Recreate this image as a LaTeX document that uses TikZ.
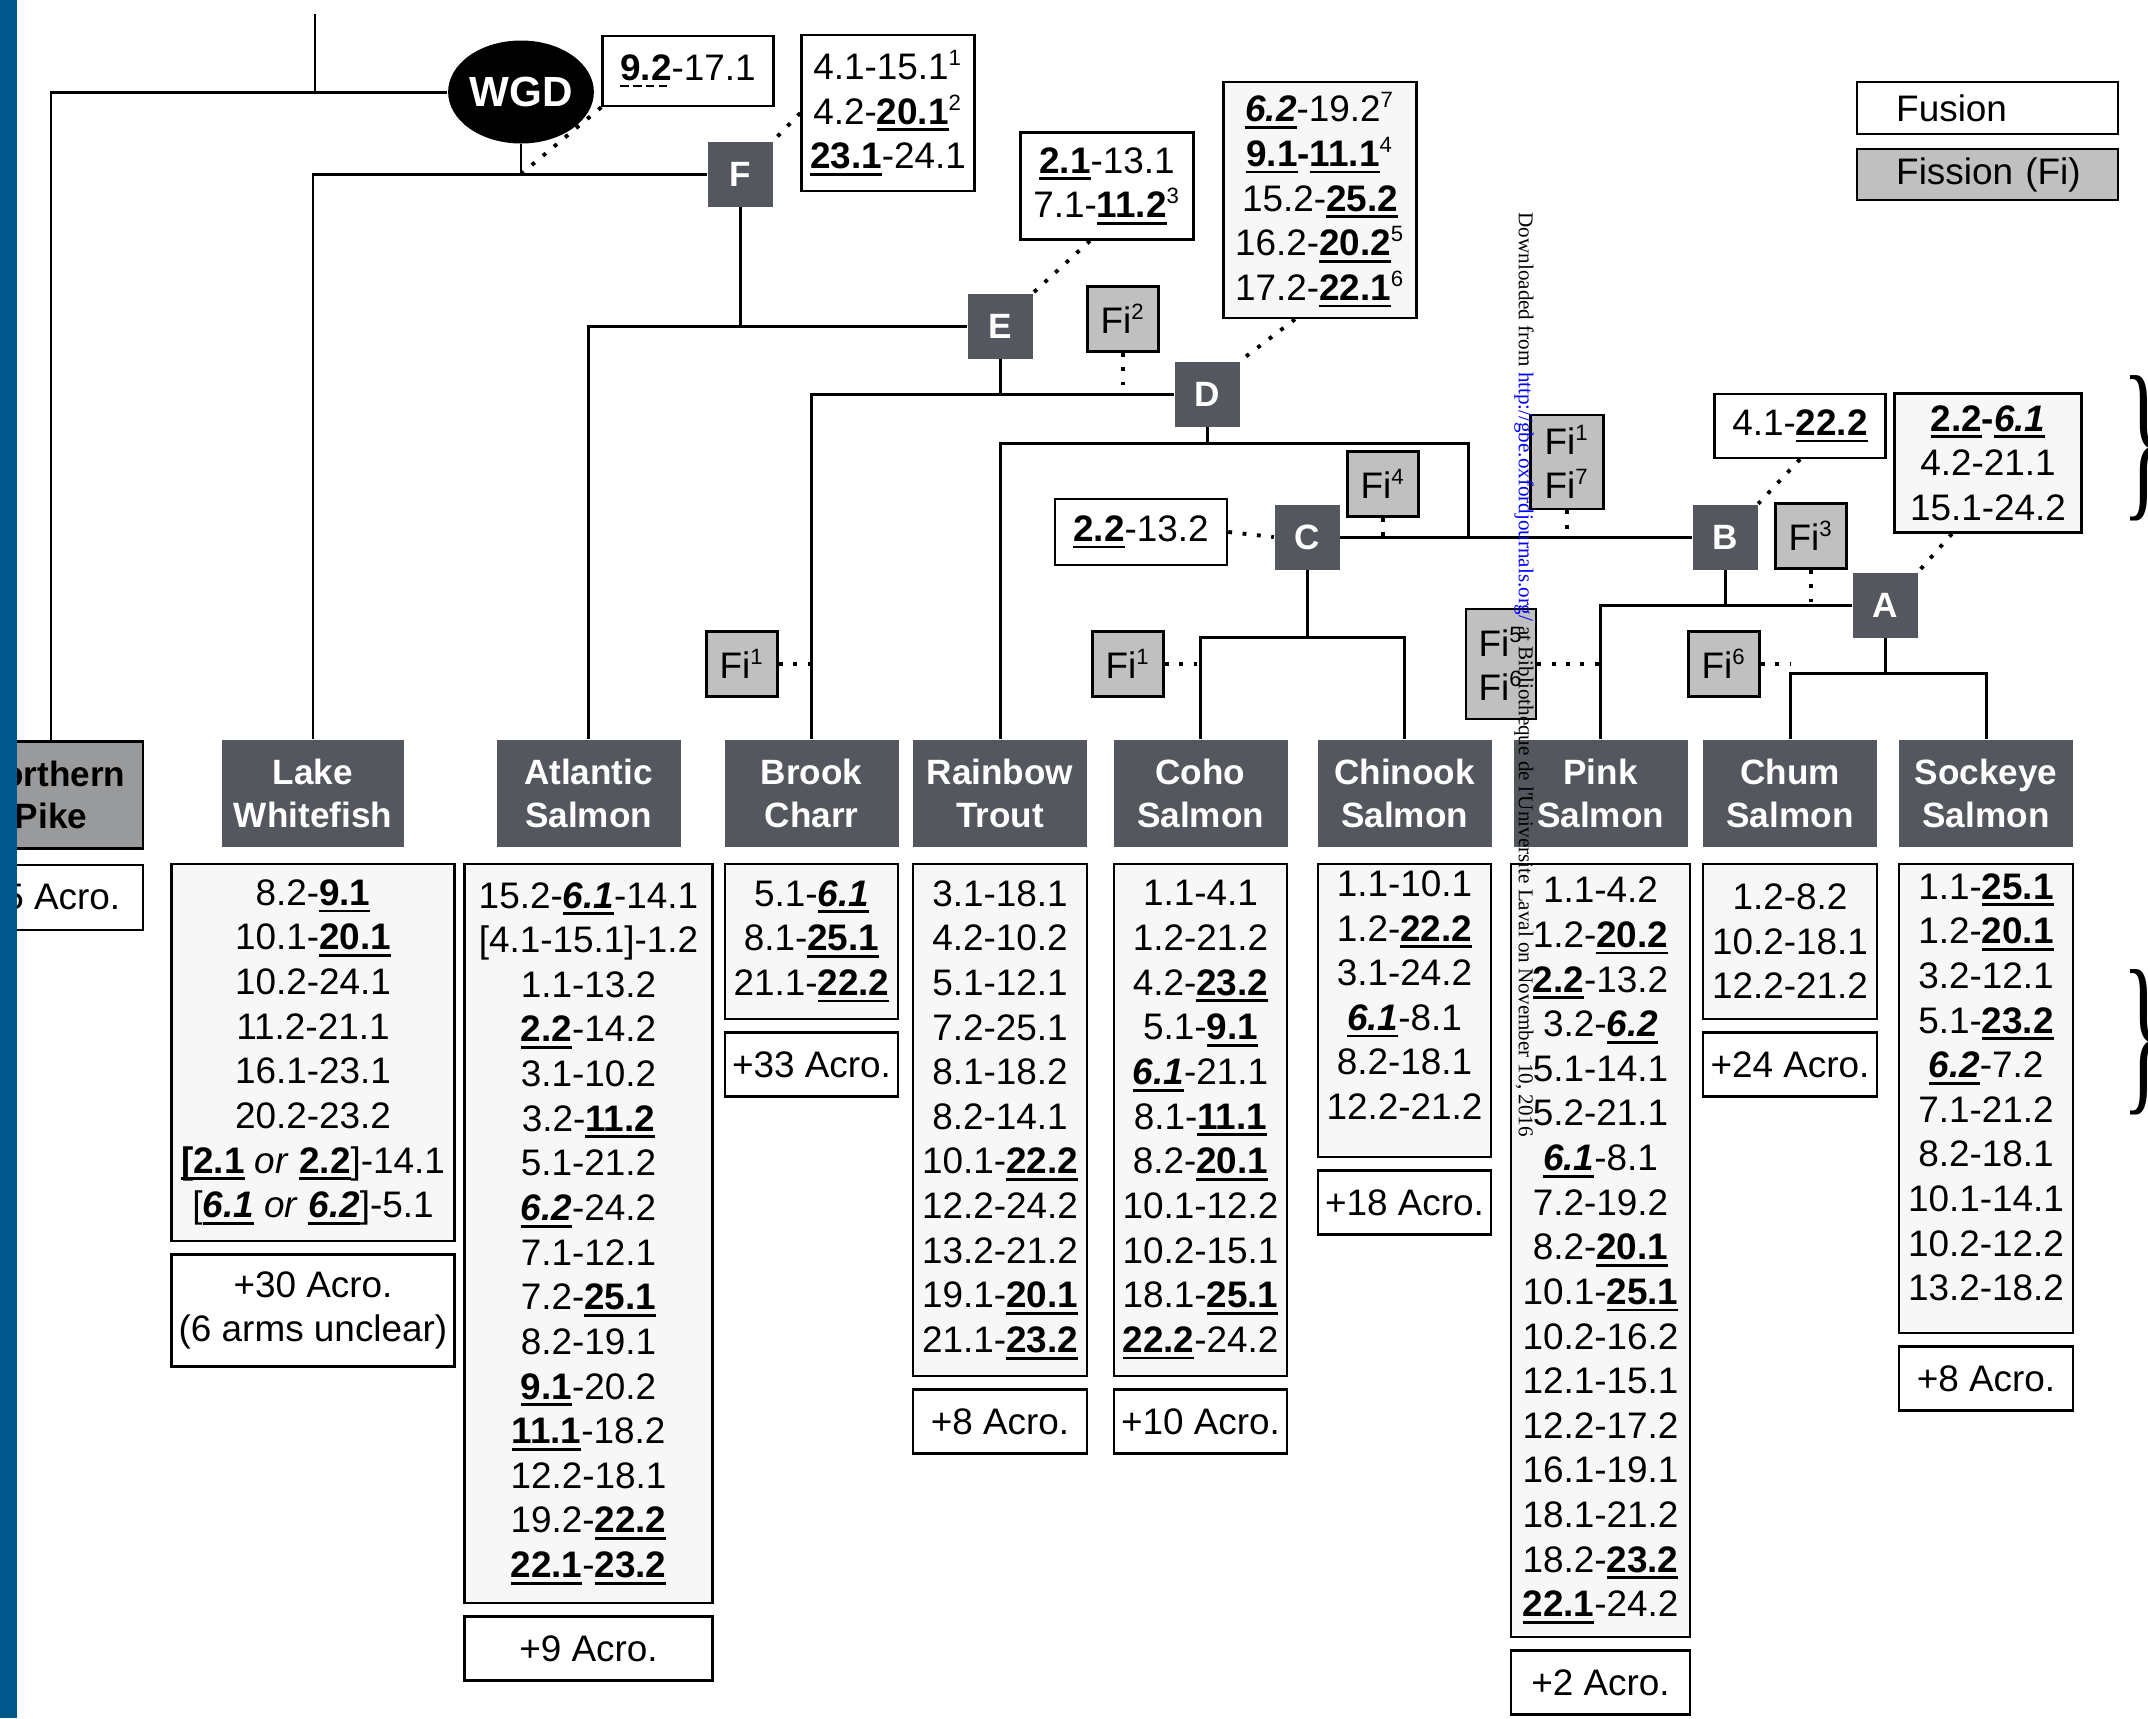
\documentclass[tikz,border=0pt]{standalone}
\usepackage{fontspec}
\setmainfont{Liberation Sans}
\newfontfamily\seriffont{Liberation Serif}
\usepackage{tikz}
\usetikzlibrary{positioning, shapes.geometric}

\definecolor{slate}{RGB}{84,88,94}
\definecolor{figray}{RGB}{192,192,192}
\definecolor{pikegray}{RGB}{153,154,156}
\definecolor{listgray}{RGB}{247,247,247}
\definecolor{barblue}{RGB}{0,88,140}
\definecolor{linkblue}{RGB}{0,0,255}

% underlined arm numbers (fusions)
\newcommand{\ulbox}[1]{\setbox0=\hbox{#1}\rlap{\rule[-2pt]{\wd0}{0.8pt}}\box0\relax}
\newcommand{\fus}[1]{\ulbox{\textbf{#1}}}
\newcommand{\fusi}[1]{\ulbox{\textbf{\textit{#1}}}}
\newcommand{\fusd}[1]{\setbox0=\hbox{\textbf{#1}}\rlap{\raisebox{-2pt}{\hbox to \wd0{\xleaders\hbox{\rule{2.4pt}{0.8pt}\hspace{1.2pt}}\hfill}}}\box0\relax}
\newcommand{\sps}[1]{\textsuperscript{\fontsize{6.3pt}{7pt}\selectfont#1}}

\begin{document}
\begin{tikzpicture}[
        x=0.1mm, y=-0.1mm,
        font=\fontsize{10.5pt}{12.7pt}\selectfont,
        branch/.style={line width=0.85pt},
        dots/.style={line width=1.1pt, dash pattern=on 1.1pt off 3pt},
        clade/.style={rectangle, fill=slate, text=white, font=\bfseries, minimum width=6.5mm, minimum height=6.5mm, inner sep=0},
        fibox/.style={rectangle, draw, line width=0.7pt, fill=figray, align=center, minimum width=7.1mm, minimum height=6.5mm, inner sep=0},
        note/.style={rectangle, draw, line width=0.7pt, fill=white, align=center, inner sep=0},
        legend/.style={note, anchor=west, text width=26.1mm, align=left, minimum height=5.2mm},
        species/.style={rectangle, fill=slate, text=white, font=\bfseries, align=center, minimum height=10.7mm, minimum width=17.4mm, inner sep=0},
        arms/.style={rectangle, draw, line width=0.7pt, fill=listgray, align=center, inner sep=0},
        acro/.style={rectangle, draw, line width=0.7pt, fill=white, align=center, minimum height=6.4mm, inner sep=0},
    ]
        \useasboundingbox (0,0) rectangle (2148,1718);

        % ====== legend ======
        \node[legend] (fusion) at (1856,108) {\hspace*{3.9mm}Fusion};
        \node[legend, fill=figray, minimum height=5.1mm] (fission) at (1856,174.5) {\hspace*{3.9mm}Fission (Fi)};

        % ====== clades ======
        \node[ellipse, fill=black, text=white, font=\fontsize{12pt}{14pt}\selectfont\bfseries, minimum width=13.1mm, minimum height=10.3mm, inner sep=0] (wgd) at (521,92) {WGD};
        \node[clade] (f) at (740,174) {F};
        \node[clade] (e) at (1000,326) {E};
        \node[clade] (d) at (1207,394) {D};
        \node[clade] (c) at (1307,537) {C};
        \node[clade] (b) at (1725,537) {B};
        \node[clade] (a) at (1885,605) {A};

        \coordinate (rootTop) at (315,14);
        \coordinate (dfork) at (1468,443);
        \coordinate (cfork) at (1307,637);
        \coordinate (afork) at (1885,673);

        % fusions at the clades
        \node[note, minimum width=17.1mm, minimum height=7.0mm] (n92) at (688,71) {\fusd{9.2}-17.1};
        \node[note, minimum width=17.3mm, minimum height=15.6mm] (n41) at (888,113) {4.1-15.1\sps{1}\\4.2-\fus{20.1}\sps{2}\\\fus{23.1}-24.1};
        \node[note, minimum width=17.3mm, minimum height=10.7mm] (n21) at (1107,186) {\fus{2.1}-13.1\\7.1-\fus{11.2}\sps{3}};
        \node[note, fill=listgray, minimum width=19.3mm, minimum height=23.6mm] (n62) at (1320,200) {\fusi{6.2}-19.2\sps{7}\\\fus{9.1}\textbf{-}\fus{11.1}\sps{4}\\15.2-\fus{25.2}\\16.2-\fus{20.2}\sps{5}\\17.2-\fus{22.1}\sps{6}};
        \node[note, minimum width=17.2mm, minimum height=6.6mm] (n2213) at (1141,532) {\fus{2.2}-13.2};
        \node[note, minimum width=17.1mm, minimum height=6.4mm] (n222) at (1800,426) {4.1-\fus{22.2}};
        \node[note, fill=listgray, minimum width=18.7mm, minimum height=13.9mm] (n226) at (1988,463) {\fus{2.2}\textbf{-}\fusi{6.1}\\4.2-21.1\\15.1-24.2};

        % fissions
        \node[fibox] (fiD) at (1123,319) {Fi\sps{2}};
        \node[fibox] (fiBC) at (742,664) {Fi\sps{1}};
        \node[fibox] (fiC) at (1383,484) {Fi\sps{4}};
        \node[fibox] (fiCoho) at (1128,664) {Fi\sps{1}};
        \node[fibox, minimum width=7.3mm, minimum height=9.4mm] (fiCB) at (1567,462) {Fi\sps{1}\\Fi\sps{7}};
        \node[fibox] (fiA) at (1811,536) {Fi\sps{3}};
        \node[fibox] (fiChum) at (1724,664) {Fi\sps{6}};
        \node[fibox, minimum width=7.0mm, minimum height=11.0mm] (fiPink) at (1501,664) {Fi\sps{5}\\Fi\sps{6}};

        % ====== species ======
        \node[species, fill=pikegray, text=black, draw, line width=0.7pt, minimum width=18.4mm] (pike) at (51,795) {Northern\\Pike};
        \node[species, minimum width=18.2mm] (whitefish) at (313,793.5) {Lake\\Whitefish};
        \node[species, minimum width=18.4mm] (atlantic) at (588.5,793.5) {Atlantic\\Salmon};
        \node[species] (brook) at (811.5,793.5) {Brook\\Charr};
        \node[species] (rainbow) at (1000,793.5) {Rainbow\\Trout};
        \node[species] (coho) at (1200.5,793.5) {Coho\\Salmon};
        \node[species] (chinook) at (1404.5,793.5) {Chinook\\Salmon};
        \node[species] (pink) at (1600.5,793.5) {Pink\\Salmon};
        \node[species] (chum) at (1790,793.5) {Chum\\Salmon};
        \node[species] (sockeye) at (1986,793.5) {Sockeye\\Salmon};

        % fusions in each species
        \node[arms, below=1.5mm of whitefish, minimum width=28.3mm, minimum height=37.7mm] (lwArms) {8.2-\fus{9.1}\\10.1-\fus{20.1}\\10.2-24.1\\11.2-21.1\\16.1-23.1\\20.2-23.2\\\fus{[2.1} \textit{or} \fus{2.2}]-14.1\\{[}\fusi{6.1} \textit{or} \fusi{6.2}]-5.1};
        \node[arms, below=1.5mm of atlantic, minimum width=24.8mm, minimum height=73.9mm] (atArms) {15.2-\fusi{6.1}-14.1\\{[}4.1-15.1]-1.2\\1.1-13.2\\\fus{2.2}-14.2\\3.1-10.2\\3.2-\fus{11.2}\\5.1-21.2\\\fusi{6.2}-24.2\\7.1-12.1\\7.2-\fus{25.1}\\8.2-19.1\\\fus{9.1}-20.2\\\fus{11.1}-18.2\\12.2-18.1\\19.2-\fus{22.2}\\\fus{22.1}-\fus{23.2}};
        \node[arms, below=1.5mm of brook, minimum width=17.3mm, minimum height=15.5mm] (bcArms) {5.1-\fusi{6.1}\\8.1-\fus{25.1}\\21.1-\fus{22.2}};
        \node[arms, below=1.5mm of rainbow, minimum width=17.4mm, minimum height=51.2mm] (rtArms) {3.1-18.1\\4.2-10.2\\5.1-12.1\\7.2-25.1\\8.1-18.2\\8.2-14.1\\10.1-\fus{22.2}\\12.2-24.2\\13.2-21.2\\19.1-\fus{20.1}\\21.1-\fus{23.2}};
        \node[arms, below=1.5mm of coho, minimum width=17.3mm, minimum height=51.2mm] (coArms) {1.1-4.1\\1.2-21.2\\4.2-\fus{23.2}\\5.1-\fus{9.1}\\\fusi{6.1}-21.1\\8.1-\fus{11.1}\\8.2-\fus{20.1}\\10.1-12.2\\10.2-15.1\\18.1-\fus{25.1}\\\fus{22.2}-24.2};
        \node[arms, below=1.5mm of chinook, minimum width=17.3mm, minimum height=29.3mm] (chArms) {1.1-10.1\\1.2-\fus{22.2}\\3.1-24.2\\\fusi{6.1}-8.1\\8.2-18.1\\12.2-21.2\\[-1.4mm]};
        \node[arms, below=1.5mm of pink, minimum width=17.9mm, minimum height=77.3mm] (piArms) {1.1-4.2\\1.2-\fus{20.2}\\\fus{2.2}-13.2\\3.2-\fusi{6.2}\\5.1-14.1\\5.2-21.1\\\fusi{6.1}-8.1\\7.2-19.2\\8.2-\fus{20.1}\\10.1-\fus{25.1}\\10.2-16.2\\12.1-15.1\\12.2-17.2\\16.1-19.1\\18.1-21.2\\18.2-\fus{23.2}\\\fus{22.1}-24.2};
        \node[arms, below=1.5mm of chum, minimum width=17.4mm, minimum height=15.5mm] (cuArms) {1.2-8.2\\10.2-18.1\\12.2-21.2};
        \node[arms, below=1.5mm of sockeye, minimum width=17.4mm, minimum height=46.9mm] (soArms) {1.1-\fus{25.1}\\1.2-\fus{20.1}\\3.2-12.1\\5.1-\fus{23.2}\\\fusi{6.2}-7.2\\7.1-21.2\\8.2-18.1\\10.1-14.1\\10.2-12.2\\13.2-18.2\\[-2.2mm]};

        % acrocentric counts
        \node[acro, below=1.4mm of pike, minimum width=18.4mm, minimum height=6.5mm] (pkAcro) {+5 Acro.};
        \node[acro, below=1.1mm of lwArms, minimum width=28.3mm, minimum height=11.2mm] (lwAcro) {+30 Acro.\\(6 arms unclear)};
        \node[acro, below=1.1mm of atArms, minimum width=24.8mm] (atAcro) {+9 Acro.};
        \node[acro, below=1.1mm of bcArms, minimum width=17.3mm] (bcAcro) {+33 Acro.};
        \node[acro, below=1.1mm of rtArms, minimum width=17.4mm] (rtAcro) {+8 Acro.};
        \node[acro, below=1.1mm of coArms, minimum width=17.3mm] (coAcro) {+10 Acro.};
        \node[acro, below=1.1mm of chArms, minimum width=17.3mm] (chAcro) {+18 Acro.};
        \node[acro, below=1.1mm of piArms, minimum width=17.9mm] (piAcro) {+2 Acro.};
        \node[acro, below=1.1mm of cuArms, minimum width=17.4mm] (cuAcro) {+24 Acro.};
        \node[acro, below=1.1mm of soArms, minimum width=17.4mm] (soAcro) {+8 Acro.};

        % ====== tree ======
        \draw[branch] (pike.north) |- (wgd.west);
        \draw[branch] (rootTop) -- (rootTop |- wgd.west);
        \draw[branch] (wgd.south) -- (wgd.south |- f.west);
        \draw[branch] (whitefish.north) |- (f.west);
        \draw[branch] (f.south) -- (f.south |- e.west);
        \draw[branch] (atlantic.north) |- (e.west);
        \draw[branch] (e.south) -- (e.south |- d.west);
        \draw[branch] (brook.north) |- (d.west);
        \draw[branch] (d.south) -- (d.south |- dfork);
        \draw[branch] (rainbow.north) |- (dfork) -- (dfork |- c.east);
        \draw[branch] (c.east) -- (b.west);
        \draw[branch] (c.south) -- (cfork);
        \draw[branch] (coho.north) |- (cfork) -| (chinook.north);
        \draw[branch] (b.south) -- (b.south |- a.west);
        \draw[branch] (pink.north) |- (a.west);
        \draw[branch] (a.south) -- (afork);
        \draw[branch] (chum.north) |- (afork) -| (sockeye.north);

        % fission ticks
        \draw[dots] (fiD.south) -- (fiD.south |- d.west);
        \draw[dots] (fiBC.east) -- (fiBC.east -| brook.north);
        \draw[dots] (fiC.south) -- (fiC.south |- c.east);
        \draw[dots] (fiCoho.east) -- (fiCoho.east -| coho.north);
        \draw[dots] (fiCB.south) -- (fiCB.south |- c.east);
        \draw[dots] (fiA.south) -- (fiA.south |- a.west);
        \draw[dots] (fiChum.east) -- (fiChum.east -| chum.north);
        \draw[dots] (fiPink.east) -- (fiPink.east -| pink.north);

        % fusion notes to clades
        \draw[dots] (n92.south west) -- (wgd.south |- f.west);
        \draw[dots] (n41.west) -- (f.north east);
        \draw[dots] ([xshift=-1.7mm]n21.south) -- (e.north east);
        \draw[dots] ([xshift=-2.5mm]n62.south) -- (d.north east);
        \draw[dots] (n2213.east) -- (c.west);
        \draw[dots] (n222.south) -- (b.north east);
        \draw[dots] ([xshift=-3.6mm]n226.south) -- (a.north east);

        % ====== page furniture ======
        \fill[barblue] (0,0) rectangle (17,1718);
        \node[font=\seriffont\fontsize{50pt}{50pt}\selectfont, xscale=0.5, inner sep=0, anchor=west] (brace1) at (2122,448) {\}};
        \node[font=\seriffont\fontsize{50pt}{50pt}\selectfont, xscale=0.5, inner sep=0, anchor=west] (brace2) at (2122,1042) {\}};
        \node[rotate=-90, anchor=west, inner sep=0, font=\seriffont\fontsize{6pt}{7pt}\selectfont] (wmark) at (1524,212) {Downloaded from \textcolor{linkblue}{http://gbe.oxfordjournals.org/} at Bibliotheque de l'Universite Laval on November 10, 2016};
    \end{tikzpicture}
\end{document}
